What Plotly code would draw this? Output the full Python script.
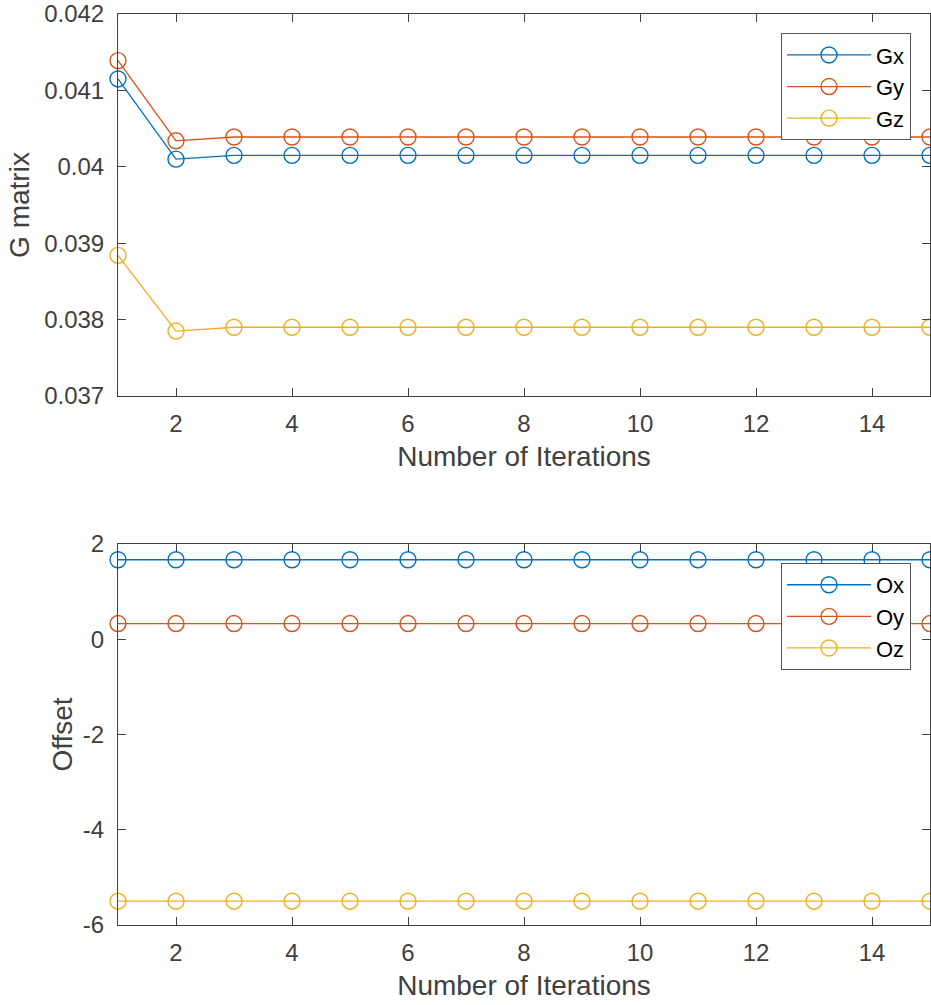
import plotly.graph_objects as go

iterations = [1, 2, 3, 4, 5, 6, 7, 8, 9, 10, 11, 12, 13, 14, 15]

Gx = [0.04115, 0.04010, 0.04015, 0.04015, 0.04015, 0.04015, 0.04015, 0.04015,
      0.04015, 0.04015, 0.04015, 0.04015, 0.04015, 0.04015, 0.04015]
Gy = [0.04139, 0.04034, 0.04039, 0.04039, 0.04039, 0.04039, 0.04039, 0.04039,
      0.04039, 0.04039, 0.04039, 0.04039, 0.04039, 0.04039, 0.04039]
Gz = [0.03884, 0.03785, 0.03790, 0.03790, 0.03790, 0.03790, 0.03790, 0.03790,
      0.03790, 0.03790, 0.03790, 0.03790, 0.03790, 0.03790, 0.03790]

Ox = [1.67, 1.67, 1.67, 1.67, 1.67, 1.67, 1.67, 1.67, 1.67, 1.67, 1.67, 1.67, 1.67, 1.67, 1.67]
Oy = [0.33, 0.33, 0.33, 0.33, 0.33, 0.33, 0.33, 0.33, 0.33, 0.33, 0.33, 0.33, 0.33, 0.33, 0.33]
Oz = [-5.5, -5.5, -5.5, -5.5, -5.5, -5.5, -5.5, -5.5, -5.5, -5.5, -5.5, -5.5, -5.5, -5.5, -5.5]

x_ticks = [2, 4, 6, 8, 10, 12, 14]
g_tickvals = [0.037, 0.038, 0.039, 0.040, 0.041, 0.042]
g_ticktext = ["0.037", "0.038", "0.039", "0.04", "0.041", "0.042"]
o_tickvals = [-6, -4, -2, 0, 2]
o_ticktext = ["-6", "-4", "-2", "0", "2"]

colors = ["#0072BD", "#D95319", "#EDB120"]
FONT = "Liberation Sans, Arial, Helvetica, sans-serif"
AX = "#404040"

fig = go.Figure()

top = [("Gx", Gx), ("Gy", Gy), ("Gz", Gz)]
bot = [("Ox", Ox), ("Oy", Oy), ("Oz", Oz)]

for (name, vals), c in zip(top, colors):
    fig.add_trace(go.Scatter(
        x=iterations, y=vals, name=name, mode="lines+markers",
        line=dict(color=c, width=1.3),
        marker=dict(symbol="circle-open", size=16, color=c, line=dict(width=1.4, color=c)),
        cliponaxis=False, xaxis="x", yaxis="y", legend="legend",
    ))
for (name, vals), c in zip(bot, colors):
    fig.add_trace(go.Scatter(
        x=iterations, y=vals, name=name, mode="lines+markers",
        line=dict(color=c, width=1.3),
        marker=dict(symbol="circle-open", size=16, color=c, line=dict(width=1.4, color=c)),
        cliponaxis=False, xaxis="x2", yaxis="y2", legend="legend2",
    ))

common_x = dict(
    range=[1, 15], tickvals=x_ticks, ticks="inside", ticklen=8, tickcolor=AX,
    showline=True, linecolor=AX, linewidth=1, mirror="ticks", showgrid=False,
    zeroline=False, tickfont=dict(family=FONT, size=24, color=AX),
    ticklabelstandoff=6,
    title=dict(text="Number of Iterations", font=dict(family=FONT, size=28, color=AX), standoff=10),
)
common_y = dict(
    ticks="inside", ticklen=8, tickcolor=AX,
    showline=True, linecolor=AX, linewidth=1, mirror="ticks", showgrid=False,
    zeroline=False, tickfont=dict(family=FONT, size=24, color=AX),
    ticklabelstandoff=8,
)

legend_common = dict(
    bgcolor="white", bordercolor="#555555", borderwidth=1,
    font=dict(family=FONT, size=22, color="black"),
    itemwidth=84, xanchor="right", yanchor="top", tracegroupgap=0,
)

fig.update_layout(
    width=931, height=1005,
    margin=dict(l=118, r=1, t=14, b=80),
    paper_bgcolor="white", plot_bgcolor="white",
    showlegend=True,
    xaxis=dict(domain=[0, 1], anchor="y", **common_x),
    yaxis=dict(domain=[0.5807, 1.0], anchor="x", range=[0.037, 0.042],
               tickvals=g_tickvals, ticktext=g_ticktext,
               title=dict(text="G matrix", font=dict(family=FONT, size=28, color=AX), standoff=6),
               **common_y),
    xaxis2=dict(domain=[0, 1], anchor="y2", **common_x),
    yaxis2=dict(domain=[0.0, 0.4182], anchor="x2", range=[-6, 2],
                tickvals=o_tickvals, ticktext=o_ticktext,
                title=dict(text="Offset", font=dict(family=FONT, size=28, color=AX), standoff=2),
                **common_y),
    legend=dict(x=0.9766, y=0.979, **legend_common),
    legend2=dict(x=0.9766, y=0.3974, **legend_common),
)

fig.write_html(
    "out.html",
    config={"displayModeBar": False},
    post_script="document.body.style.margin='0';document.body.style.overflow='hidden';",
)
